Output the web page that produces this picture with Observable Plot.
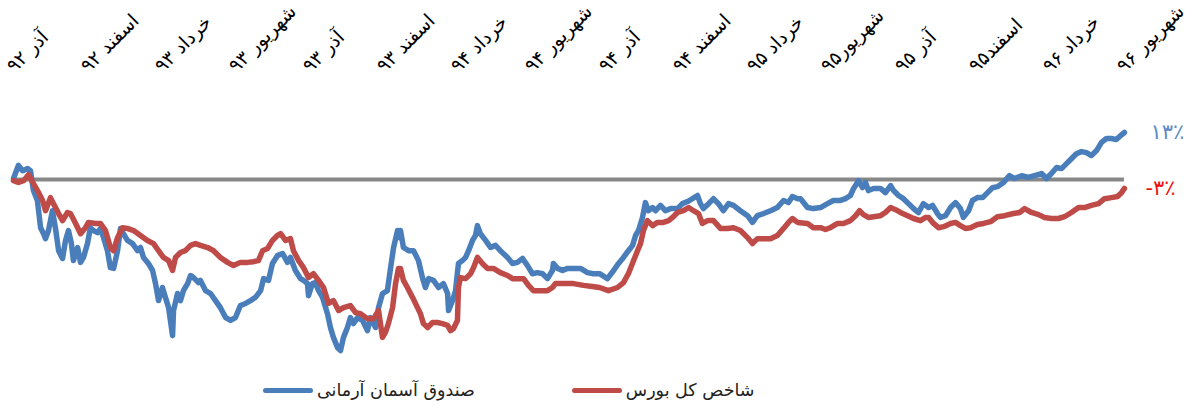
<!DOCTYPE html>
<html><head><meta charset="utf-8">
<script src="https://cdn.jsdelivr.net/npm/d3@7"></script>
<script src="https://cdn.jsdelivr.net/npm/@observablehq/plot@0.6"></script>
<style>
body{margin:0;background:#fff;font-family:"DejaVu Sans",sans-serif;}
#chart{width:1196px;height:409px;position:relative;overflow:hidden;background:#fff}
#legend{position:absolute;left:263px;top:371px;height:38px;display:flex;align-items:center;direction:ltr}
.item{display:flex;align-items:center}
.sw{width:50px;height:5px;border-radius:3px;margin-right:4px}
.lab{font-size:17.5px;color:#222;white-space:nowrap}
</style></head>
<body><div id="chart"></div>
<script>
// Tick positions (months since آذر ۹۲) and labels
const tickMonths = [0,3,6,9,12,15,18,21,24,27,30,33,36,39,42,45];
const tickLabels = ["آذر ۹۲","اسفند ۹۲","خرداد ۹۳","شهریور ۹۳","آذر ۹۳","اسفند ۹۳","خرداد ۹۴","شهریور ۹۴","آذر ۹۴","اسفند ۹۴","خرداد ۹۵","شهریور۹۵","آذر ۹۵","اسفند۹۵","خرداد ۹۶","شهریور ۹۶"];
const seriesNames = ["صندوق آسمان آرمانی","شاخص کل بورس"];
const endLabels = ["۱۳٪","-۳٪"];

// صندوق آسمان آرمانی (cumulative return, %)
const fundMonths = [0.12,0.32,0.49,0.69,0.81,0.93,1.09,1.22,1.34,1.42,1.54,1.70,1.82,1.95,2.11,2.23,2.35,2.47,2.55,2.72,2.84,2.96,3.12,3.24,3.36,3.53,3.65,3.77,3.93,4.05,4.18,4.34,4.46,4.58,4.74,4.95,5.15,5.27,5.39,5.59,5.76,5.88,6.00,6.16,6.28,6.41,6.57,6.61,6.77,6.89,7.01,7.18,7.30,7.42,7.62,
7.70,7.91,8.11,8.31,8.51,8.72,8.92,9.12,9.32,9.53,9.73,9.93,10.14,10.26,10.46,10.62,10.82,11.03,11.23,11.35,11.55,11.76,11.88,12.04,12.08,12.24,12.36,12.49,12.65,12.85,12.97,13.09,13.26,13.38,13.50,13.66,13.78,13.90,14.07,14.27,14.47,14.59,14.80,14.92,15.08,15.28,15.41,15.53,15.69,15.77,
15.81,15.93,16.14,16.34,16.54,16.70,16.82,16.95,17.15,17.35,17.55,17.72,17.76,17.92,18.04,18.16,18.32,18.45,18.57,18.73,18.85,18.93,19.05,19.26,19.46,19.66,19.86,20.15,20.35,20.55,20.76,20.96,21.16,21.36,21.57,21.77,21.97,22.01,22.18,22.38,22.58,22.82,23.11,23.39,23.63,23.88,
24.20,24.45,24.65,24.85,25.05,25.22,25.34,25.46,25.62,25.74,25.86,26.03,26.15,26.35,26.55,26.76,27.04,27.24,27.45,27.65,27.85,27.97,28.09,28.30,28.50,28.70,28.90,29.11,29.31,29.59,29.88,30.08,30.28,30.53,30.81,31.09,31.34,31.54,31.70,31.91,
32.03,32.31,32.55,32.84,33.12,33.36,33.65,33.85,34.05,34.18,34.38,34.54,34.66,34.78,34.99,35.27,35.47,35.68,35.80,36.00,36.20,36.41,36.61,36.81,37.01,37.22,37.38,37.58,37.70,37.91,38.11,38.31,38.51,38.63,38.84,39.00,39.20,39.41,39.61,39.81,40.01,
40.26,40.50,40.70,40.99,41.27,41.51,41.80,42.00,42.20,42.41,42.61,42.81,43.01,43.21,43.42,43.62,43.82,44.03,44.23,44.43,44.63,44.83,45.00,45.16];
const fundValues = [0.3,4.0,2.5,3.1,2.5,-3.1,-5.9,-13.6,-15.3,-16.7,-14.4,-8.8,-13.6,-20.1,-22.3,-17.2,-14.4,-18.1,-22.9,-19.2,-23.4,-22.0,-18.1,-13.6,-14.4,-15.0,-13.8,-16.4,-20.1,-24.9,-25.1,-20.1,-13.8,-15.3,-17.2,-18.1,-20.1,-19.2,-22.0,-23.7,-25.7,-29.4,-34.2,-30.5,-33.3,-36.2,-44.1,-37.0,-32.2,-34.2,-31.4,-29.4,-27.1,-27.7,-29.1,
-28.5,-31.4,-32.2,-34.2,-36.2,-39.0,-39.8,-39.0,-35.6,-35.0,-34.2,-33.3,-31.4,-28.0,-28.5,-23.7,-21.5,-20.9,-23.4,-22.0,-25.7,-28.0,-28.5,-29.4,-32.8,-29.4,-29.1,-31.4,-33.3,-37.9,-41.8,-44.6,-47.5,-48.3,-44.6,-41.8,-39.0,-40.7,-39.0,-39.8,-42.7,-39.0,-41.8,-36.2,-32.2,-31.4,-24.9,-19.2,-14.4,-16.4,
-14.4,-19.2,-20.1,-20.1,-22.9,-27.7,-30.5,-28.0,-28.5,-30.5,-29.4,-32.2,-37.0,-34.2,-31.4,-23.7,-22.9,-22.0,-20.1,-17.2,-15.8,-13.0,-15.3,-17.2,-19.2,-18.6,-20.1,-22.0,-23.7,-23.4,-22.3,-24.3,-26.6,-26.3,-26.6,-28.0,-25.7,-23.7,-25.1,-25.7,-25.1,-25.1,-25.1,-26.3,-26.6,-26.6,
-28.0,-25.7,-23.7,-22.0,-20.1,-18.6,-15.8,-14.4,-10.7,-6.5,-8.8,-7.9,-8.8,-7.3,-8.8,-8.2,-8.2,-6.8,-6.2,-5.4,-4.5,-6.8,-8.2,-6.8,-5.4,-6.8,-8.8,-6.8,-7.3,-8.8,-10.2,-12.1,-10.2,-9.6,-8.8,-7.9,-5.9,-6.5,-4.8,-5.4,
-5.4,-7.9,-8.2,-7.9,-6.8,-5.9,-5.9,-5.4,-4.5,-2.5,-0.3,-2.3,-0.8,-3.1,-2.5,-2.5,-3.7,-1.7,-3.1,-4.5,-5.4,-6.8,-8.2,-9.3,-6.8,-7.9,-7.3,-9.6,-10.7,-10.2,-7.9,-6.5,-8.2,-10.7,-8.8,-5.9,-5.1,-5.1,-3.7,-2.3,-2.0,
-0.8,1.1,0.3,1.1,0.6,1.1,1.7,0.3,1.7,3.4,3.1,4.5,5.9,7.3,7.9,7.6,6.8,8.2,10.5,11.6,11.6,11.3,12.4,13.3];

// شاخص کل بورس (cumulative return, %)
const indexMonths = [0.12,0.32,0.53,0.73,0.93,1.14,1.30,1.42,1.62,1.74,1.95,2.11,2.31,2.43,2.64,2.84,3.04,3.16,3.45,3.65,3.85,4.05,4.18,4.34,4.54,4.74,4.99,5.27,5.55,5.80,6.00,6.20,6.41,6.57,6.69,6.89,7.09,7.30,7.50,
7.70,7.99,8.23,8.51,8.80,9.04,9.32,9.61,9.85,10.05,10.22,10.42,10.62,10.82,10.95,11.15,11.35,11.47,11.68,11.88,12.08,12.28,12.49,12.69,12.89,13.09,13.30,13.50,13.78,13.99,14.19,14.47,14.72,14.92,15.08,15.20,15.32,15.49,15.61,15.73,
15.81,15.93,16.09,16.30,16.50,16.62,16.74,16.91,17.11,17.31,17.51,17.72,17.84,17.96,18.12,18.16,18.24,18.45,18.65,18.77,18.93,19.13,19.34,19.58,19.86,20.15,20.35,20.59,20.80,21.00,21.20,21.49,21.77,21.97,22.09,22.42,22.82,23.23,23.59,23.88,
24.24,24.61,24.85,25.05,25.26,25.42,25.54,25.66,25.82,26.03,26.23,26.47,26.68,26.84,27.04,27.28,27.49,27.69,27.89,28.05,28.26,28.50,28.78,29.07,29.31,29.59,29.88,30.08,30.28,30.53,30.81,31.09,31.34,31.54,31.70,31.91,
32.31,32.55,32.84,33.04,33.24,33.53,33.77,34.05,34.26,34.42,34.58,34.78,34.99,35.27,35.47,35.68,35.88,36.08,36.37,36.61,36.89,37.09,37.22,37.42,37.62,37.83,38.11,38.31,38.51,38.71,38.92,39.20,39.45,39.73,40.01,
40.30,40.66,40.91,41.11,41.39,41.68,41.92,42.20,42.49,42.73,43.01,43.30,43.54,43.82,44.11,44.35,44.63,44.88,45.04,45.16];
const indexValues = [-0.3,-0.8,-0.3,1.4,-1.1,-3.7,-5.9,-8.8,-5.1,-6.8,-9.6,-11.6,-9.3,-9.6,-12.4,-15.3,-13.6,-12.1,-12.4,-12.4,-14.4,-19.2,-20.1,-16.4,-13.6,-13.8,-14.4,-15.8,-17.2,-18.1,-20.1,-22.0,-22.9,-25.7,-22.0,-20.6,-20.1,-18.6,-18.1,
-18.6,-19.2,-20.1,-22.0,-23.4,-24.3,-23.4,-23.4,-23.2,-22.9,-20.1,-19.5,-17.2,-15.8,-15.3,-17.2,-16.7,-20.1,-22.9,-24.9,-27.7,-26.6,-28.5,-30.5,-35.0,-34.2,-37.0,-36.2,-35.6,-37.6,-37.9,-39.3,-39.3,-37.0,-44.6,-43.2,-40.7,-36.2,-29.4,-25.1,
-25.1,-28.5,-30.5,-33.3,-36.2,-37.9,-40.7,-41.8,-40.4,-40.4,-40.7,-41.2,-42.7,-42.1,-39.8,-30.5,-27.7,-28.0,-26.6,-24.9,-22.0,-23.7,-25.1,-25.1,-26.3,-27.1,-28.0,-28.0,-28.0,-29.9,-31.4,-31.4,-31.4,-30.5,-29.4,-29.4,-29.4,-29.9,-30.2,-30.5,
-31.4,-30.5,-29.1,-26.6,-22.9,-20.1,-18.1,-14.4,-11.6,-13.0,-12.1,-12.1,-11.6,-10.7,-9.3,-8.8,-7.9,-8.8,-9.6,-12.4,-11.6,-11.6,-13.8,-13.8,-13.6,-14.4,-16.4,-18.1,-16.7,-16.7,-16.7,-15.8,-13.8,-12.1,-11.0,-12.1,
-12.4,-13.6,-13.6,-14.1,-13.6,-12.4,-12.4,-11.6,-10.2,-8.8,-9.9,-10.7,-10.5,-10.2,-9.3,-7.9,-8.5,-9.3,-10.2,-11.0,-11.6,-10.7,-10.7,-12.4,-13.6,-13.3,-12.4,-12.1,-13.0,-13.8,-13.6,-12.7,-12.4,-11.9,-10.5,
-10.2,-9.6,-9.3,-8.2,-9.3,-9.9,-10.7,-11.0,-11.0,-10.5,-9.3,-7.9,-7.9,-7.3,-6.8,-5.4,-5.1,-4.8,-3.7,-2.5];

const fund = fundMonths.map((m, i) => ({m, v: fundValues[i]}));
const index = indexMonths.map((m, i) => ({m, v: indexValues[i]}));
const ticks = tickMonths.map((m, i) => ({m, label: tickLabels[i]}));
const xStart = d3.min([...fundMonths, ...indexMonths]);
const xEnd = d3.max([...fundMonths, ...indexMonths]);
const fundEnd = [{m: xEnd, v: fund[fund.length - 1].v, label: endLabels[0]}];
const indexEnd = [{m: xEnd, v: index[index.length - 1].v, label: endLabels[1]}];

const BLUE = "#4a7ebb", RED = "#be4b48";
const font = "DejaVu Sans";

const chart = Plot.plot({
  width: 1196, height: 365,
  marginLeft: 10, marginRight: 76, marginTop: 126, marginBottom: 9,
  x: {domain: [0, 45], axis: null},
  y: {domain: [-50, 15], axis: null},
  style: {background: "white", overflow: "visible"},
  marks: [
    Plot.ruleY([{y: 0, x1: xStart, x2: xEnd}], {y: "y", x1: "x1", x2: "x2", stroke: "#878787", strokeWidth: 4}),
    Plot.line(fund, {x: "m", y: "v", stroke: BLUE, strokeWidth: 5.5, strokeLinejoin: "round", strokeLinecap: "round"}),
    Plot.line(index, {x: "m", y: "v", stroke: RED, strokeWidth: 5.5, strokeLinejoin: "round", strokeLinecap: "round"}),
    Plot.text(ticks, {x: "m", text: "label", frameAnchor: "top", dx: 4, dy: -53, rotate: -45, textAnchor: "start", lineAnchor: "bottom", fontSize: 19, fontFamily: font, fill: "#000"}),
    Plot.text(fundEnd, {x: "m", y: "v", text: "label", dx: 26, textAnchor: "start", fontSize: 21, fontFamily: font, fill: "#5b8bc9"}),
    Plot.text(indexEnd, {x: "m", y: "v", text: "label", dx: 21, textAnchor: "start", fontSize: 21, fontFamily: font, fill: "#ee1111"})
  ]
});

const root = document.getElementById("chart");
root.appendChild(chart);
const legend = document.createElement("div");
legend.id = "legend";
const colors = [BLUE, RED];
seriesNames.forEach((name, i) => {
  const item = document.createElement("div");
  item.className = "item";
  item.style.marginRight = i === 0 ? "97px" : "0";
  const sw = document.createElement("span");
  sw.className = "sw";
  sw.style.background = colors[i];
  const lab = document.createElement("span");
  lab.className = "lab";
  lab.textContent = name;
  item.appendChild(sw); item.appendChild(lab);
  legend.appendChild(item);
});
root.appendChild(legend);
</script>
</body></html>
